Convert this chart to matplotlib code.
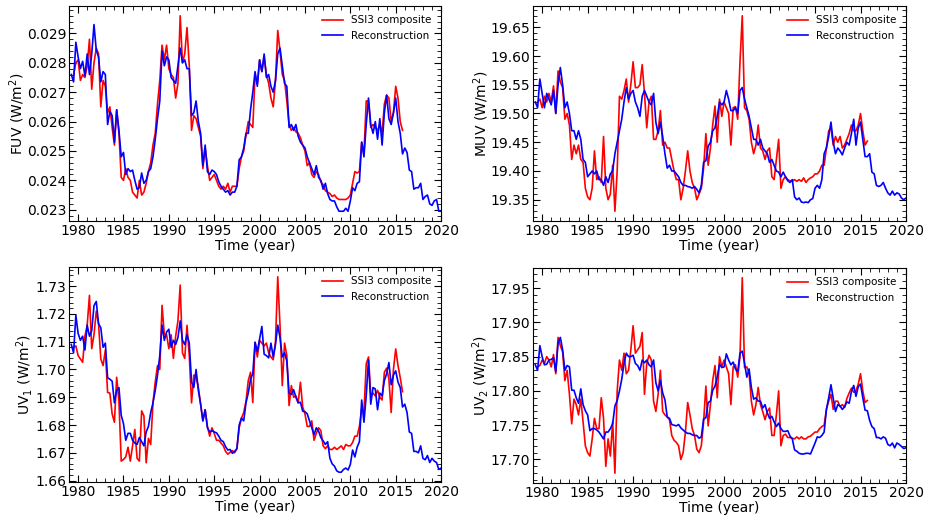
#!/usr/bin/python3
import matplotlib
matplotlib.use('Agg')
import matplotlib.pyplot as plt
import numpy as np
from matplotlib.ticker import AutoMinorLocator, MultipleLocator, FormatStrFormatter

# quarterly sampling of the curves
t_rec = np.arange(1979.25, 2020.01, 0.25)   # reconstruction
t_ssi = np.arange(1979.5, 2015.76, 0.25)    # SSI3 composite

# FUV in mW/m^2 (converted below)
fuv_rec = [27.6, 27.35, 28.7,
           28.2, 27.8, 28.05, 27.55, 28.3, 27.6, 28.3, 29.3,
           28.43, 28.2, 27.35, 27.7, 27.6, 25.9, 26.35, 26.2,
           25.3, 26.4, 25.7, 24.8, 24.95, 24.2, 24.4, 24.3,
           24.35, 24.0, 23.7, 23.75, 24.25, 23.9, 24.0, 24.3,
           24.4, 24.8, 25.4, 26.1, 26.7, 28.4, 27.9, 28.2,
           28.1, 27.5, 27.4, 27.3, 27.9, 28.5, 28.0, 28.1,
           27.8, 27.8, 26.2, 26.3, 26.7, 26.0, 25.6, 24.5,
           25.2, 24.3, 24.2, 24.35, 24.3, 24.2, 23.95, 23.8,
           23.7, 23.6, 23.65, 23.5, 23.6, 23.6, 23.8, 24.7,
           24.8, 25.1, 25.6, 25.6, 26.4, 27.0, 27.7, 27.2,
           28.1, 27.7, 28.3, 27.5, 27.6, 27.2, 27.0, 27.4,
           28.3, 28.5, 27.9, 27.3, 27.2, 25.8, 25.9, 25.7,
           25.9, 25.5, 25.3, 25.2, 25.1, 24.8, 24.6, 24.4,
           24.2, 24.5, 24.1, 24.0, 23.7, 23.9, 23.55, 23.35,
           23.3, 23.3, 23.1, 22.95, 22.95, 22.95, 23.05, 22.95,
           23.3, 23.75, 23.65, 23.9, 23.95, 25.3, 24.8, 25.9,
           26.8, 25.9, 25.6, 26.0, 25.4, 26.1, 25.2, 26.3,
           26.9, 26.1, 25.9, 26.3, 26.8, 26.0, 25.6, 24.9,
           25.1, 24.95, 24.35, 24.3, 23.7, 23.75, 23.75, 23.9,
           23.35, 23.45, 23.5, 23.2, 23.15, 23.3, 23.35, 22.95,
           22.95]
fuv_ssi = [27.6, 28.0,
           28.1, 27.4, 27.6, 27.5, 27.9, 28.8, 27.1, 28.0,
           28.5, 28.3, 26.5, 27.4, 27.2, 26.3, 26.5, 25.8,
           25.2, 26.4, 25.6, 24.1, 24.0, 24.4, 24.1, 24.0,
           23.6, 23.5, 23.4, 24.0, 23.5, 23.6, 23.9, 24.3,
           24.6, 25.2, 25.6, 26.6, 27.4, 28.6, 28.1, 28.6,
           27.8, 27.6, 27.5, 26.8, 27.3, 29.6, 28.0, 28.3,
           29.2, 27.9, 25.7, 26.2, 26.1, 25.8, 25.5, 24.4,
           25.1, 24.5, 24.0, 24.1, 24.2, 24.0, 23.8, 23.7,
           23.8, 23.7, 23.9, 23.6, 23.8, 23.8, 23.8, 24.4,
           24.8, 25.0, 25.55, 26.0, 25.9, 25.8, 27.6, 27.3,
           28.1, 27.7, 28.2, 27.6, 27.3, 26.8, 26.5, 27.4,
           29.1, 28.4, 27.6, 27.4, 26.7, 25.9, 25.7, 25.8,
           25.65, 25.6, 25.45, 25.2, 25.0, 24.5, 24.6, 24.2,
           24.1, 24.3, 24.2, 23.95, 23.85, 23.65, 23.6, 23.55,
           23.45, 23.5, 23.4, 23.35, 23.35, 23.35, 23.35, 23.4,
           23.5, 23.9, 24.3, 24.25, 24.3, 25.3, 24.9, 26.7,
           26.7, 25.8, 25.9, 25.8, 25.7, 25.9, 25.6, 26.6,
           26.9, 26.8, 26.0, 26.3, 27.2, 26.8, 26.0, 25.7]

muv_rec = [19.52, 19.51, 19.56,
           19.535, 19.51, 19.535, 19.525, 19.515, 19.54, 19.50, 19.55,
           19.58, 19.55, 19.51, 19.52, 19.50, 19.47, 19.47, 19.455,
           19.47, 19.455, 19.42, 19.415, 19.39, 19.395, 19.40, 19.395,
           19.40, 19.385, 19.385, 19.375, 19.39, 19.38, 19.395, 19.40,
           19.43, 19.45, 19.47, 19.49, 19.52, 19.545, 19.525, 19.535,
           19.54, 19.52, 19.51, 19.495, 19.53, 19.54, 19.53, 19.52,
           19.515, 19.535, 19.485, 19.465, 19.485, 19.46, 19.43, 19.405,
           19.41, 19.40, 19.40, 19.395, 19.39, 19.38, 19.375, 19.375,
           19.373, 19.372, 19.37, 19.373, 19.368, 19.362, 19.375, 19.415,
           19.418, 19.443, 19.45, 19.47, 19.475, 19.495, 19.52, 19.515,
           19.52, 19.54, 19.525, 19.505, 19.505, 19.51, 19.50, 19.54,
           19.545, 19.525, 19.51, 19.495, 19.475, 19.455, 19.455, 19.445,
           19.455, 19.44, 19.435, 19.43, 19.415, 19.42, 19.41, 19.40,
           19.398, 19.39, 19.398, 19.39, 19.383, 19.38, 19.385, 19.355,
           19.35, 19.353, 19.346, 19.345, 19.346, 19.345, 19.35, 19.352,
           19.37, 19.375, 19.37, 19.385, 19.43, 19.44, 19.46, 19.485,
           19.45, 19.43, 19.44, 19.435, 19.428, 19.44, 19.45, 19.445,
           19.465, 19.49, 19.445, 19.475, 19.485, 19.455, 19.425, 19.425,
           19.43, 19.398, 19.395, 19.375, 19.373, 19.375, 19.38, 19.37,
           19.362, 19.358, 19.365, 19.358, 19.362, 19.36, 19.353, 19.35,
           19.353]
muv_ssi = [19.52, 19.525,
           19.51, 19.53, 19.52, 19.535, 19.52, 19.548, 19.50, 19.574,
           19.555, 19.545, 19.49, 19.50, 19.48, 19.42, 19.445, 19.43,
           19.445, 19.42, 19.415, 19.37, 19.355, 19.35, 19.37, 19.435,
           19.385, 19.39, 19.38, 19.46, 19.37, 19.35, 19.36, 19.41,
           19.33, 19.40, 19.53, 19.525, 19.54, 19.56, 19.52, 19.55,
           19.59, 19.545, 19.545, 19.55, 19.585, 19.535, 19.475, 19.52,
           19.53, 19.455, 19.455, 19.47, 19.505, 19.445, 19.45, 19.44,
           19.44, 19.42, 19.40, 19.385, 19.385, 19.35, 19.37, 19.40,
           19.435, 19.40, 19.38, 19.37, 19.35, 19.36, 19.37, 19.405,
           19.465, 19.41, 19.44, 19.48, 19.513, 19.45, 19.525, 19.495,
           19.52, 19.51, 19.50, 19.445, 19.51, 19.512, 19.49, 19.59,
           19.67, 19.51, 19.505, 19.49, 19.45, 19.43, 19.445, 19.48,
           19.44, 19.435, 19.42, 19.435, 19.44, 19.39, 19.385, 19.42,
           19.455, 19.37, 19.385, 19.39, 19.385, 19.383, 19.382, 19.385,
           19.382, 19.385, 19.382, 19.388, 19.38, 19.385, 19.388, 19.39,
           19.395, 19.395, 19.40, 19.41, 19.41, 19.44, 19.47, 19.475,
           19.445, 19.46, 19.45, 19.46, 19.44, 19.445, 19.455, 19.465,
           19.48, 19.47, 19.47, 19.48, 19.50, 19.47, 19.445, 19.452]

uv1_rec = [1.709, 1.706, 1.7195,
           1.713, 1.7105, 1.712, 1.707, 1.716, 1.712, 1.714, 1.723,
           1.7245, 1.7165, 1.715, 1.708, 1.7095, 1.697, 1.6965, 1.6958,
           1.688, 1.6925, 1.6935, 1.6835, 1.6805, 1.6745, 1.677, 1.677,
           1.6745, 1.6735, 1.673, 1.6755, 1.674, 1.6725, 1.6775, 1.6795,
           1.6845, 1.688, 1.6925, 1.698, 1.705, 1.716, 1.7105, 1.7135,
           1.7145, 1.708, 1.7105, 1.709, 1.7115, 1.7175, 1.7105, 1.709,
           1.7125, 1.7095, 1.6955, 1.6935, 1.700, 1.6925, 1.6875, 1.6815,
           1.6855, 1.679, 1.6775, 1.678, 1.6775, 1.6772, 1.676, 1.6745,
           1.674, 1.6722, 1.671, 1.6712, 1.6698, 1.6705, 1.6715, 1.680,
           1.6825, 1.6815, 1.688, 1.6915, 1.6965, 1.6985, 1.7098, 1.7065,
           1.711, 1.7155, 1.7055, 1.705, 1.7042, 1.7095, 1.7045, 1.709,
           1.716, 1.7115, 1.7045, 1.706, 1.703, 1.6915, 1.691, 1.6927,
           1.690, 1.688, 1.6882, 1.685, 1.6848, 1.684, 1.6815, 1.679,
           1.6765, 1.679, 1.6778, 1.6755, 1.6743, 1.673, 1.674, 1.668,
           1.666, 1.6652, 1.6635, 1.663, 1.663, 1.664, 1.6645, 1.6638,
           1.6658, 1.671, 1.6685, 1.672, 1.674, 1.689, 1.681, 1.6905,
           1.7035, 1.6875, 1.6935, 1.693, 1.6855, 1.6915, 1.6905, 1.696,
           1.6985, 1.7025, 1.6945, 1.698, 1.6995, 1.6955, 1.6935, 1.6865,
           1.6875, 1.6845, 1.6775, 1.677, 1.6705, 1.6705, 1.670, 1.6725,
           1.668, 1.6675, 1.669, 1.6665, 1.668, 1.667, 1.6665, 1.664,
           1.6645]
uv1_ssi = [1.708, 1.7085,
           1.705, 1.7038, 1.7026, 1.712, 1.716, 1.7267, 1.7075, 1.7125,
           1.721, 1.7165, 1.7038, 1.7014, 1.707, 1.6917, 1.6915, 1.684,
           1.681, 1.6972, 1.6885, 1.667, 1.6676, 1.6685, 1.672, 1.667,
           1.6725, 1.6784, 1.668, 1.667, 1.6851, 1.6833, 1.6664, 1.6752,
           1.673, 1.688, 1.6955, 1.7014, 1.700, 1.7231, 1.7125, 1.7125,
           1.7075, 1.7125, 1.704, 1.712, 1.7175, 1.7304, 1.706, 1.704,
           1.7159, 1.705, 1.688, 1.698, 1.6975, 1.6935, 1.6875, 1.6815,
           1.6855, 1.6795, 1.676, 1.679, 1.677, 1.6745, 1.6745, 1.6735,
           1.6725, 1.6705, 1.6695, 1.6702, 1.6708, 1.670, 1.6715, 1.679,
           1.6825, 1.6845, 1.6885, 1.696, 1.699, 1.6881, 1.7098, 1.7045,
           1.7105, 1.7095, 1.7085, 1.7095, 1.706, 1.7045, 1.7035, 1.710,
           1.7334, 1.7159, 1.6942, 1.7095, 1.705, 1.687, 1.6942, 1.690,
           1.6905, 1.688, 1.6954, 1.6865, 1.684, 1.6795, 1.6795, 1.6815,
           1.6745, 1.677, 1.679, 1.678, 1.6725, 1.6715, 1.6725, 1.6712,
           1.6712, 1.672, 1.6712, 1.6718, 1.6725, 1.6712, 1.673, 1.6725,
           1.6725, 1.6737, 1.676, 1.676, 1.6795, 1.686, 1.6845, 1.702,
           1.7045, 1.691, 1.6915, 1.6905, 1.6925, 1.690, 1.689, 1.699,
           1.7005, 1.6965, 1.6845, 1.700, 1.7074, 1.7015, 1.697, 1.692]

uv2_rec = [17.838, 17.83, 17.866,
           17.85, 17.838, 17.839, 17.845, 17.846, 17.848, 17.828, 17.87,
           17.878, 17.86, 17.83, 17.837, 17.835, 17.801, 17.801, 17.79,
           17.782, 17.803, 17.78, 17.771, 17.765, 17.742, 17.745, 17.745,
           17.743, 17.74, 17.735, 17.73, 17.74, 17.74, 17.745, 17.752,
           17.778, 17.786, 17.80, 17.817, 17.84, 17.855, 17.85, 17.85,
           17.852, 17.84, 17.837, 17.83, 17.845, 17.841, 17.845, 17.838,
           17.835, 17.845, 17.812, 17.80, 17.815, 17.797, 17.787, 17.762,
           17.76, 17.751, 17.75, 17.749, 17.751, 17.746, 17.743, 17.74,
           17.738, 17.738, 17.736, 17.735, 17.735, 17.731, 17.733, 17.759,
           17.761, 17.783, 17.785, 17.801, 17.807, 17.82, 17.839, 17.834,
           17.835, 17.854, 17.845, 17.838, 17.842, 17.832, 17.828, 17.855,
           17.858, 17.84, 17.82, 17.832, 17.805, 17.788, 17.79, 17.785,
           17.785, 17.775, 17.78, 17.768, 17.76, 17.763, 17.755, 17.748,
           17.753, 17.745, 17.741, 17.741, 17.742, 17.734, 17.73, 17.714,
           17.712, 17.709, 17.708, 17.708, 17.709, 17.709, 17.708, 17.716,
           17.724, 17.733, 17.732, 17.735, 17.74, 17.773, 17.79, 17.809,
           17.789, 17.77, 17.78, 17.778, 17.773, 17.777, 17.784, 17.782,
           17.799, 17.808, 17.792, 17.806, 17.81, 17.79, 17.772, 17.771,
           17.757, 17.748, 17.745, 17.732, 17.732, 17.73, 17.733, 17.731,
           17.722, 17.72, 17.724, 17.717, 17.724, 17.722, 17.719, 17.716,
           17.717]
uv2_ssi = [17.835, 17.837,
           17.845, 17.84, 17.85, 17.845, 17.835, 17.853, 17.825, 17.878,
           17.866, 17.857, 17.815, 17.83, 17.795, 17.752, 17.788, 17.78,
           17.765, 17.788, 17.755, 17.72, 17.71, 17.705, 17.73, 17.76,
           17.745, 17.745, 17.79, 17.76, 17.69, 17.73, 17.705, 17.755,
           17.68, 17.80, 17.845, 17.83, 17.855, 17.825, 17.83, 17.86,
           17.895, 17.855, 17.86, 17.865, 17.885, 17.795, 17.84, 17.852,
           17.845, 17.785, 17.77, 17.795, 17.83, 17.77, 17.765, 17.762,
           17.758, 17.735, 17.728, 17.725, 17.72, 17.70, 17.71, 17.74,
           17.783, 17.765, 17.745, 17.735, 17.715, 17.71, 17.72, 17.755,
           17.807, 17.749, 17.78, 17.815, 17.837, 17.79, 17.85, 17.835,
           17.845, 17.835, 17.825, 17.78, 17.835, 17.838, 17.82, 17.85,
           17.965, 17.834, 17.835, 17.826, 17.785, 17.765, 17.78, 17.805,
           17.78, 17.77, 17.758, 17.77, 17.775, 17.735, 17.735, 17.765,
           17.80, 17.72, 17.735, 17.737, 17.732, 17.732, 17.731, 17.73,
           17.733, 17.73, 17.733, 17.73, 17.73, 17.733, 17.734, 17.737,
           17.74, 17.74, 17.745, 17.748, 17.75, 17.773, 17.785, 17.795,
           17.773, 17.785, 17.785, 17.777, 17.78, 17.776, 17.789, 17.797,
           17.804, 17.798, 17.80, 17.81, 17.825, 17.80, 17.783, 17.786]

# (composite, reconstruction, y label, major step, tick format)
panels = [
    (np.array(fuv_ssi) * 1e-3, np.array(fuv_rec) * 1e-3, r'FUV (W/m$^2$)', 0.001, '%.3f'),
    (muv_ssi, muv_rec, r'MUV (W/m$^2$)', 0.05, '%.2f'),
    (uv1_ssi, uv1_rec, r'UV$_1$ (W/m$^2$)', 0.01, '%.2f'),
    (uv2_ssi, uv2_rec, r'UV$_2$ (W/m$^2$)', 0.05, '%.2f'),
]

# axes rectangles [left, bottom, width, height]
boxes = [[0.0744, 0.5717, 0.4009, 0.4167],
         [0.5744, 0.5717, 0.4019, 0.4167],
         [0.0744, 0.0659, 0.4009, 0.4167],
         [0.5744, 0.0640, 0.4019, 0.4167]]

plt.rcParams['font.size'] = 10

fig = plt.figure(figsize=(9.28, 5.16), dpi=100)
for box, (ssi, rec, ylab, step, fmt) in zip(boxes, panels):
    ax = fig.add_axes(box)
    ax.plot(t_ssi, ssi, color='red', lw=1.2, label='SSI3 composite')
    ax.plot(t_rec, rec, color='blue', lw=1.2, label='Reconstruction')
    ax.set_xlim(1979, 2020)
    ax.set_xticks(np.arange(1980, 2021, 5))
    ax.xaxis.set_minor_locator(AutoMinorLocator())
    ax.yaxis.set_major_locator(MultipleLocator(step))
    ax.yaxis.set_minor_locator(AutoMinorLocator())
    ax.yaxis.set_major_formatter(FormatStrFormatter(fmt))
    ax.tick_params(which='both', direction='in', top=True, right=True, pad=2)
    ax.tick_params(which='major', length=5)
    ax.tick_params(which='minor', length=3)
    ax.set_xlabel('Time (year)', labelpad=1)
    ax.set_ylabel(ylab, labelpad=0)
    ax.legend(loc='upper right', frameon=False, fontsize=7.5)

fig.savefig('out.png', dpi=100)
